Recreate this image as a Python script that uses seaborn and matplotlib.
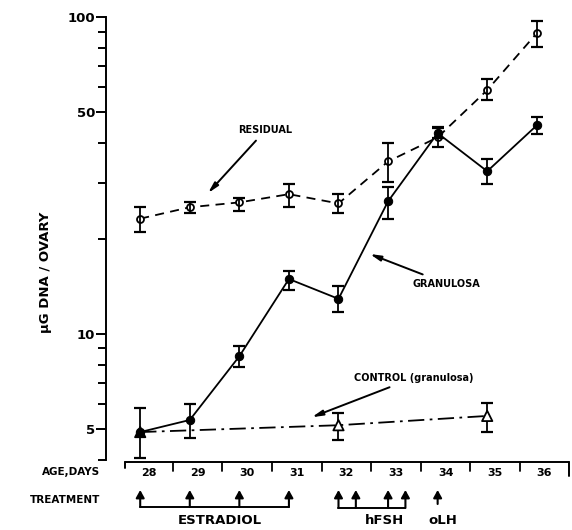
import numpy as np
import matplotlib
matplotlib.use("Agg")
import matplotlib.pyplot as plt
import matplotlib.transforms as mtransforms
import seaborn as sns

# ages (days) and DNA content per ovary (ug)
days = [28, 29, 30, 31, 32, 33, 34, 35, 36]
residual = [23.1, 25.1, 26.0, 27.6, 25.8, 35.0, 41.7, 58.8, 88.9]
residual_lo = [21.0, 24.0, 24.5, 25.1, 24.0, 30.1, 38.8, 54.6, 80.4]
residual_hi = [25.1, 26.0, 26.9, 29.8, 27.6, 39.9, 44.5, 63.7, 97.0]

granulosa = [4.9, 5.35, 8.5, 14.9, 12.9, 26.2, 43.0, 32.6, 45.5]
granulosa_lo = [4.06, 4.69, 7.87, 13.8, 11.7, 23.0, 41.4, 29.8, 42.7]
granulosa_hi = [5.84, 6.0, 9.16, 15.8, 14.2, 29.0, 44.9, 35.6, 48.3]

control_days = [28, 32, 35]
control = [4.9, 5.15, 5.51]
control_lo = [4.9, 4.62, 4.90]
control_hi = [4.9, 5.62, 6.06]

major_ticks = [5, 10, 50, 100]
minor_ticks = [4, 6, 7, 8, 9, 20, 30, 40, 60, 70, 80, 90]

# treatment schedule
estradiol_days = [28, 29, 30, 31]
hfsh_days = [32, 32.35, 33, 33.35]
olh_days = [34]

sns.set_style("ticks")
plt.rcParams['font.family'] = ['DejaVu Sans']
plt.rcParams.update({"text.color": "black", "axes.labelcolor": "black",
                     "xtick.color": "black", "ytick.color": "black",
                     "axes.edgecolor": "black"})

W, H = 572, 530
fig = plt.figure(figsize=(W / 100, H / 100), dpi=100)
ax = fig.add_axes([106 / W, 1 - 460 / H, 464 / W, 443 / H])


def err(vals, lo, hi):
    v = np.array(vals)
    return [v - np.array(lo), np.array(hi) - v]


# lines
sns.lineplot(x=days, y=residual, ax=ax, color="black", lw=1.3,
             linestyle=(0, (5, 3.5)), marker="o", markersize=5,
             markerfacecolor="white", markeredgecolor="black", markeredgewidth=1.3)
sns.lineplot(x=days, y=granulosa, ax=ax, color="black", lw=1.3,
             marker="o", markersize=6, markerfacecolor="black", markeredgecolor="black")
sns.lineplot(x=control_days, y=control, ax=ax, color="black", lw=1.3,
             linestyle=(0, (9, 3, 1.5, 3)))

# error bars
ebkw = dict(fmt="none", ecolor="black", elinewidth=1.3, capsize=4, capthick=1.6)
ax.errorbar(days, residual, yerr=err(residual, residual_lo, residual_hi), **ebkw)
ax.errorbar(days, granulosa, yerr=err(granulosa, granulosa_lo, granulosa_hi), **ebkw)
ax.errorbar(control_days[1:], control[1:],
            yerr=err(control[1:], control_lo[1:], control_hi[1:]), **ebkw)

ax.scatter(control_days, control, marker="^", s=55, zorder=5,
           facecolors=["black", "white", "white"], edgecolors="black", linewidths=1.3)

ax.set_yscale("log")
ax.set_ylim(4, 100)
ax.set_xlim(27.31, 36.67)
ax.set_yticks(major_ticks)
ax.set_yticklabels([str(t) for t in major_ticks], fontsize=9.5, fontweight="bold")
ax.set_yticks(minor_ticks, minor=True)
ax.yaxis.set_minor_formatter(matplotlib.ticker.NullFormatter())
ax.tick_params(axis="y", which="major", length=7, width=1.4, pad=1)
ax.tick_params(axis="y", which="minor", length=6, width=1.4)
ax.set_xticks([])
for s in ["top", "right", "bottom"]:
    ax.spines[s].set_visible(False)
ax.spines["left"].set_linewidth(1.4)
ax.set_xlabel("")
ax.set_ylabel("")

# labels with arrows
akw = dict(arrowstyle="-|>,head_length=0.9,head_width=0.22", color="black", lw=1.4)
ax.annotate("RESIDUAL", xy=(29.33, 27.4), xytext=(29.98, 43.9), fontsize=7,
            fontweight="bold", va="center", ha="left", arrowprops=akw)
ax.annotate("GRANULOSA", xy=(32.58, 18.0), xytext=(33.5, 14.4), fontsize=7,
            fontweight="bold", va="center", ha="left", arrowprops=akw)
ax.annotate("CONTROL (granulosa)", xy=(31.41, 5.42), xytext=(32.31, 7.26), fontsize=7,
            fontweight="bold", va="center", ha="left", arrowprops=akw)

fig.text(45 / W, 1 - 272 / H, "µG DNA / OVARY", rotation=90, fontsize=9.5,
         fontweight="bold", ha="center", va="center")

# age / treatment rows below the axis
tr = mtransforms.blended_transform_factory(ax.transData, fig.transFigure)


def fy(py):
    return 1 - py / H


edges = [27.70] + [d + 0.66 for d in days[:-1]] + [36.65]
ax.plot([edges[0], edges[-1]], [fy(462), fy(462)], transform=tr, color="black", lw=1.4, clip_on=False)
ax.plot([edges[0], edges[0]], [fy(462), fy(468)], transform=tr, color="black", lw=1.4, clip_on=False)
ax.plot([edges[-1], edges[-1]], [fy(462), fy(476)], transform=tr, color="black", lw=1.4, clip_on=False)
for e in edges[1:-1]:
    ax.plot([e, e], [fy(462), fy(471)], transform=tr, color="black", lw=1.3, clip_on=False)
for i, d in enumerate(days):
    ax.text((edges[i] + edges[i + 1]) / 2, fy(473), str(d), transform=tr, fontsize=8,
            fontweight="bold", ha="center", va="center")

fig.text(100 / W, fy(472), "AGE,DAYS", fontsize=7.5, fontweight="bold", ha="right", va="center")
fig.text(100 / W, fy(500), "TREATMENT", fontsize=7.5, fontweight="bold", ha="right", va="center")

arkw = dict(arrowstyle="-|>,head_length=0.45,head_width=0.25", color="black", lw=1.5,
            shrinkA=0, shrinkB=0)
for grp, base in [(estradiol_days, 507), (hfsh_days, 508), (olh_days, 504)]:
    for d in grp:
        ax.annotate("", xy=(d, fy(490)), xytext=(d, fy(base)), xycoords=tr,
                    textcoords=tr, arrowprops=arkw, annotation_clip=False)
    if len(grp) > 1:
        ax.plot([grp[0], grp[-1]], [fy(base), fy(base)], transform=tr, color="black",
                lw=1.4, clip_on=False)

ax.text(np.mean(estradiol_days) + 0.1, fy(520), "ESTRADIOL", transform=tr, fontsize=9.5,
        fontweight="bold", ha="center", va="center")
ax.text(np.mean(hfsh_days) + 0.25, fy(521), "hFSH", transform=tr, fontsize=9.5,
        fontweight="bold", ha="center", va="center")
ax.text(olh_days[0] + 0.1, fy(521), "oLH", transform=tr, fontsize=9.5,
        fontweight="bold", ha="center", va="center")

fig.savefig("out.png", dpi=100)
